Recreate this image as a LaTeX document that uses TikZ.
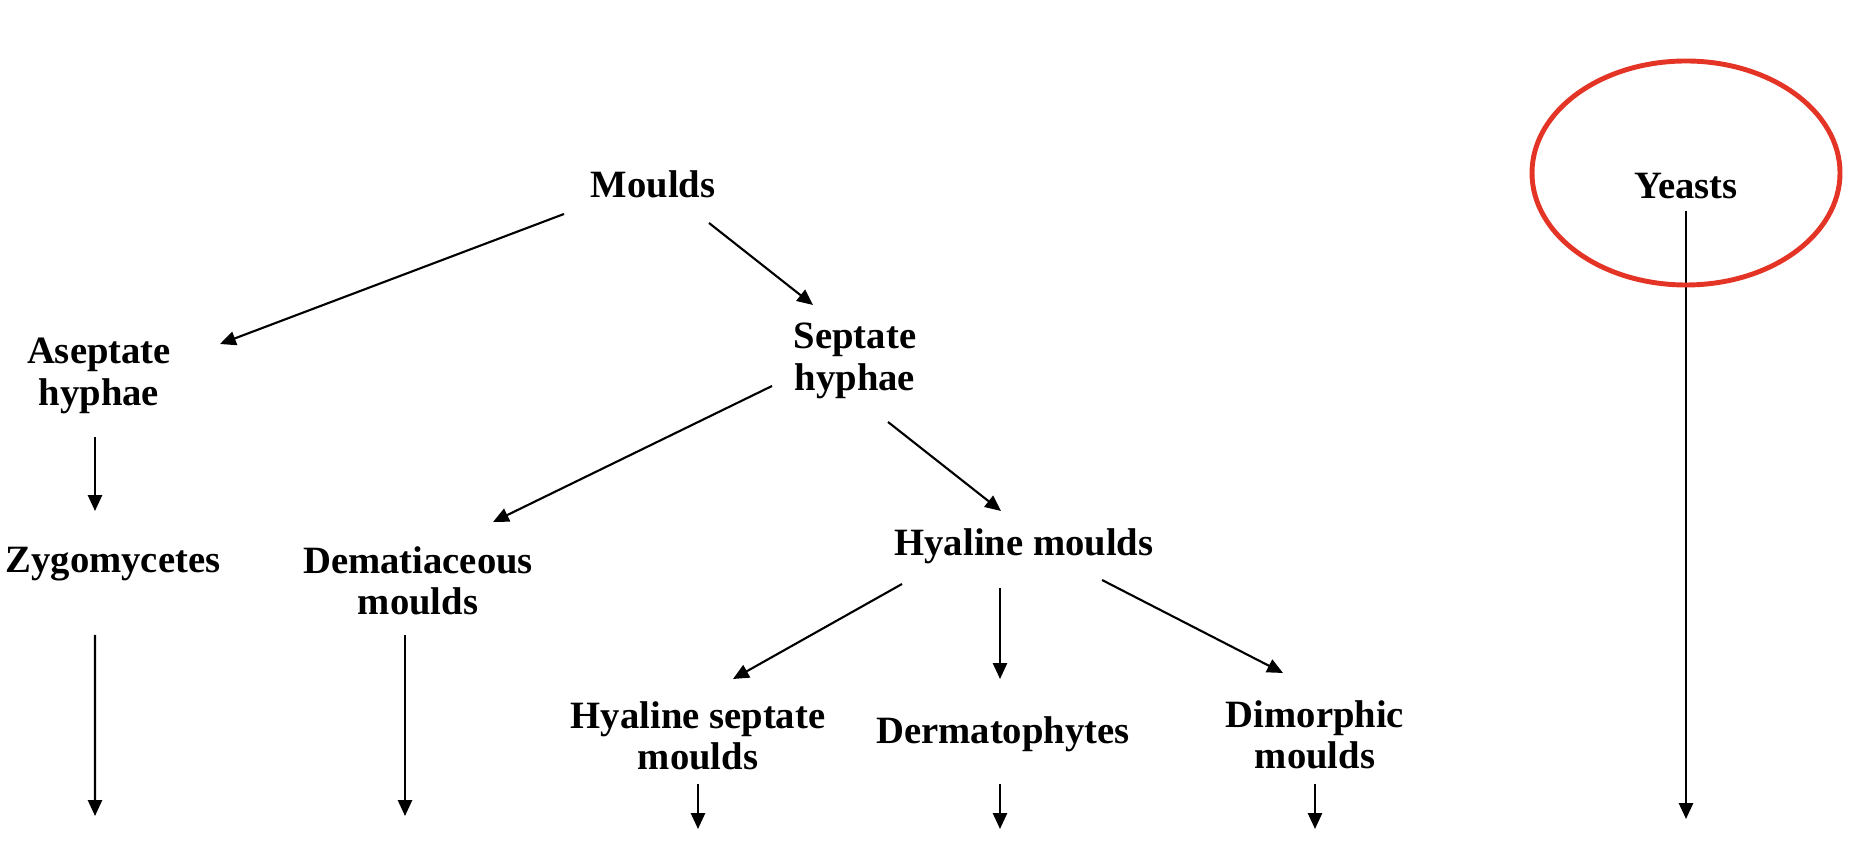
\documentclass[tikz,border=0pt]{standalone}
\usepackage{fontspec}
\setmainfont{Liberation Serif}
\usetikzlibrary{arrows.meta}
\definecolor{ringred}{RGB}{228,52,38}

\begin{document}
\begin{tikzpicture}[>={Triangle[length=9pt, width=8pt]},
    lbl/.style={font=\bfseries\fontsize{22}{23.5}\selectfont, align=center, inner sep=0pt},
    arr/.style={->, line width=1.2pt}]

    \useasboundingbox (0,0) rectangle (37.24,16.92);

    % Top level
    \node[lbl] (moulds) at (13.06, 13.24) {Moulds};
    \node[lbl] (yeasts) at (33.72, 13.20) {Yeasts};

    % Hyphae
    \node[lbl] (asep) at (1.98, 9.40) {Aseptate\\hyphae};
    \node[lbl] (sept) at (17.10, 9.70) {Septate\\hyphae};

    % Groups
    \node[lbl] (zygo)  at (2.26, 5.64) {Zygomycetes};
    \node[lbl] (demat) at (8.36, 5.30) {Dematiaceous\\moulds};
    \node[lbl] (hyal)  at (20.48, 6.00) {Hyaline moulds};

    \node[lbl] (hsept) at (13.96, 2.20) {Hyaline septate\\moulds};
    \node[lbl] (derm)  at (20.06, 2.24) {Dermatophytes};
    \node[lbl] (dimo)  at (26.30, 2.22) {Dimorphic\\moulds};

    % Free ends of the bottom arrows
    \coordinate (zygoend)  at (1.90, 0.60);
    \coordinate (dematend) at (8.10, 0.60);
    \coordinate (hseptend) at (13.96, 0.34);
    \coordinate (dermend)  at (20.00, 0.34);
    \coordinate (dimoend)  at (26.30, 0.34);
    \coordinate (yeastend) at (33.72, 0.54);

    % Branches
    \draw[arr] ([shift={(-1.78,-0.60)}]moulds.center) -- ([shift={(2.42,0.64)}]asep.center);
    \draw[arr] ([shift={(1.12,-0.78)}]moulds.center) -- ([shift={(-0.84,1.12)}]sept.center);
    \draw[arr] ([shift={(-0.08,-1.22)}]asep.center) -- ([shift={(-0.36,1.06)}]zygo.center);
    \draw[arr] ([shift={(-1.66,-0.50)}]sept.center) -- ([shift={(1.50,1.18)}]demat.center);
    \draw[arr] ([shift={(0.66,-1.22)}]sept.center) -- ([shift={(-0.46,0.70)}]hyal.center);
    \draw[arr] ([shift={(-2.44,-0.76)}]hyal.center) -- ([shift={(0.70,1.14)}]hsept.center);
    \draw[arr] ([shift={(-0.48,-0.84)}]hyal.center) -- ([shift={(-0.06,1.10)}]derm.center);
    \draw[arr] ([shift={(1.56,-0.68)}]hyal.center) -- ([shift={(-0.64,1.24)}]dimo.center);

    % Arrows to the bottom
    \draw[arr] ([shift={(-0.36,-1.42)}]zygo.center) -- (zygoend);
    \draw[arr] ([shift={(-0.26,-1.08)}]demat.center) -- (dematend);
    \draw[arr] ([shift={(0,-0.96)}]hsept.center) -- (hseptend);
    \draw[arr] ([shift={(-0.06,-1.00)}]derm.center) -- (dermend);
    \draw[arr] ([shift={(0,-0.98)}]dimo.center) -- (dimoend);
    \draw[arr] ([shift={(0,-0.50)}]yeasts.center) -- (yeastend);

    % Red ring round Yeasts
    \draw[ringred, line width=2.8pt] ([yshift=0.26cm]yeasts.center) ellipse (3.08 and 2.24);

\end{tikzpicture}
\end{document}
